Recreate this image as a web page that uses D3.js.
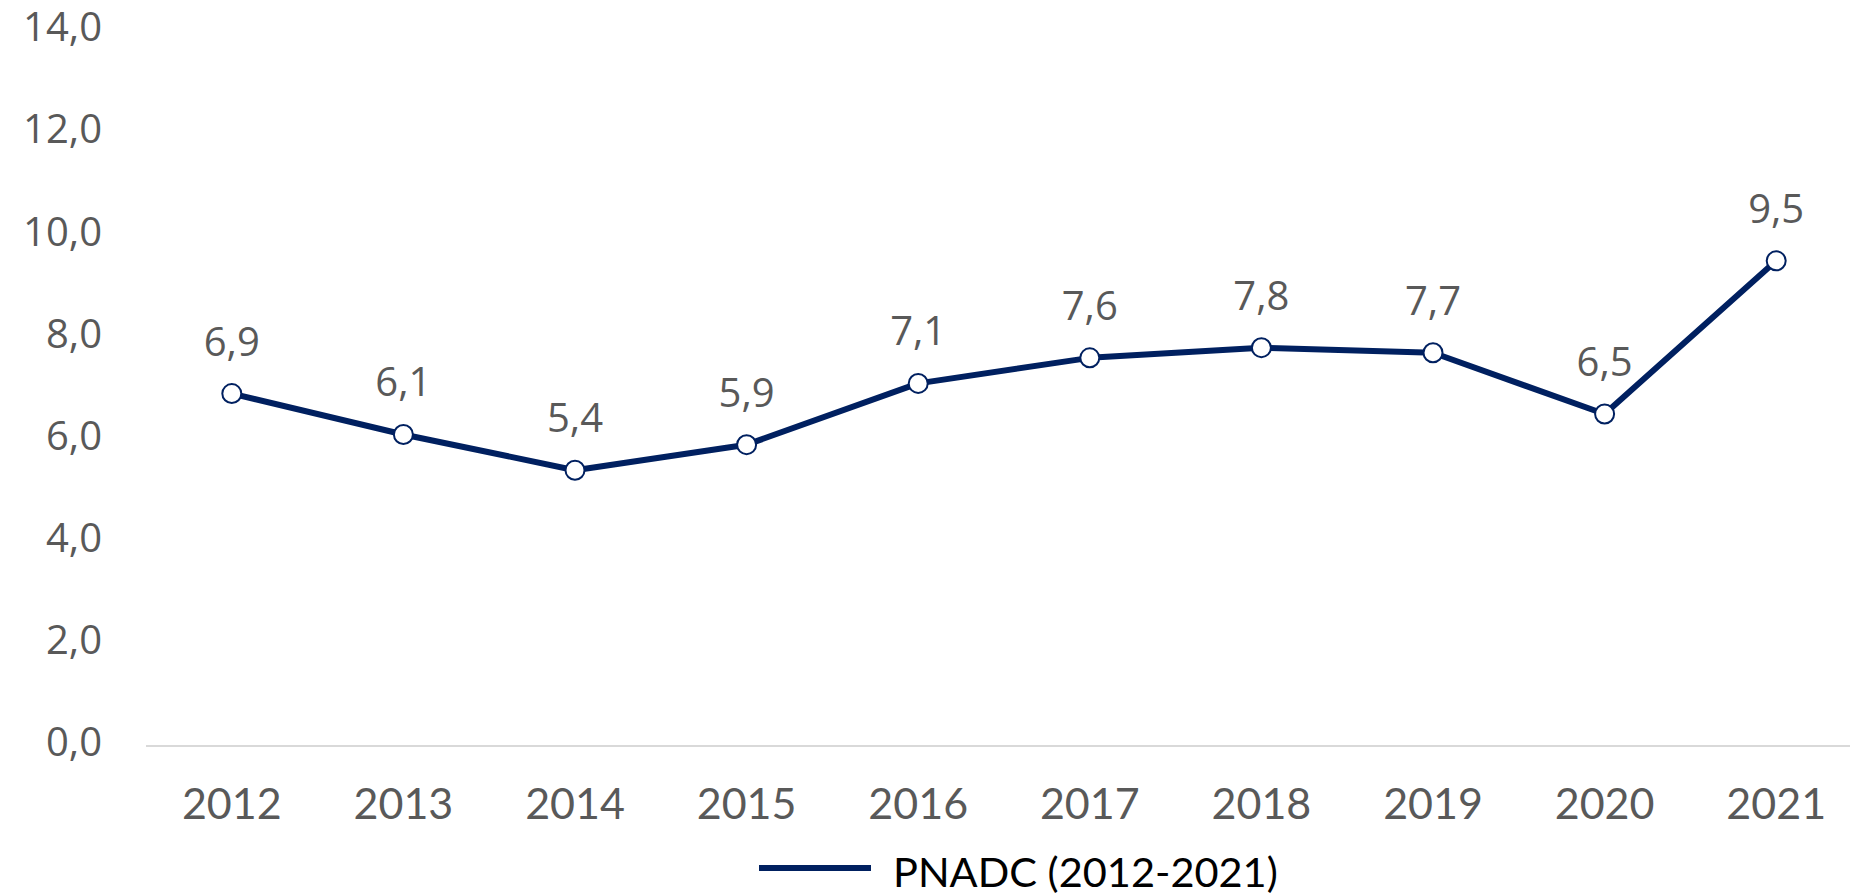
<!DOCTYPE html>
<html><head><meta charset="utf-8">
<script src="https://cdn.jsdelivr.net/npm/d3@7"></script>
<style>html,body{margin:0;padding:0;background:#fff;}svg{display:block;}</style>
</head><body>
<svg id="c" width="1850" height="893"></svg>
<script>
const years = ["2012","2013","2014","2015","2016","2017","2018","2019","2020","2021"];
const values = [6.9, 6.1, 5.4, 5.9, 7.1, 7.6, 7.8, 7.7, 6.5, 9.5];
const yTicks = [0, 2, 4, 6, 8, 10, 12, 14];
const seriesName = "PNADC (2012-2021)";

const svg = d3.select("#c");
const navy = "#002060", gray = "#595959";
const fmt = v => d3.format(".1f")(v).replace(".", ",");

const x = d3.scaleBand().domain(years).range([146, 1862]);
const y = d3.scaleLinear().domain([0, 14]).range([746, 31]);

// baseline
svg.append("line").attr("x1", 146).attr("x2", 1862).attr("y1", y(0)).attr("y2", y(0))
  .attr("stroke", "#d9d9d9").attr("stroke-width", 2);

// y axis labels
const yAxis = d3.axisLeft(y).tickValues(yTicks).tickFormat(fmt).tickSize(0).tickPadding(0);
const gy = svg.append("g").attr("transform", "translate(102,-3)").call(yAxis);
gy.select(".domain").remove();
gy.selectAll("text").attr("fill", gray).attr("font-family", "'Open Sans', sans-serif").attr("font-size", 40);

// x axis labels
const xAxis = d3.axisBottom(x).tickSize(0).tickPadding(0);
const gx = svg.append("g").attr("transform", "translate(0,788)").call(xAxis);
gx.select(".domain").remove();
gx.selectAll("text").attr("fill", gray).attr("font-family", "Lato, sans-serif").attr("font-size", 43).attr("dy", "0.71em");

const cx = d => x(d) + x.bandwidth() / 2;
const pts = years.map((d, i) => ({year: d, v: values[i]}));

svg.append("path").datum(pts)
  .attr("fill", "none").attr("stroke", navy).attr("stroke-width", 6).attr("stroke-linejoin", "round")
  .attr("d", d3.line().x(d => cx(d.year)).y(d => y(d.v)));

svg.selectAll("circle.m").data(pts).join("circle").attr("class", "m")
  .attr("cx", d => cx(d.year)).attr("cy", d => y(d.v)).attr("r", 9.5)
  .attr("fill", "#fff").attr("stroke", navy).attr("stroke-width", 2);

svg.selectAll("text.lbl").data(pts).join("text").attr("class", "lbl")
  .attr("x", d => cx(d.year)).attr("y", d => y(d.v) - 38)
  .attr("text-anchor", "middle").attr("fill", gray)
  .attr("font-family", "'Open Sans', sans-serif").attr("font-size", 40)
  .text(d => fmt(d.v));

// legend
const lg = svg.append("g");
lg.append("line").attr("x1", 759).attr("x2", 871).attr("y1", 868).attr("y2", 868)
  .attr("stroke", navy).attr("stroke-width", 6);
lg.append("text").attr("x", 893).attr("y", 887).attr("fill", "#000")
  .attr("font-family", "Lato, sans-serif").attr("font-size", 41.5).text(seriesName);
</script>
</body></html>
